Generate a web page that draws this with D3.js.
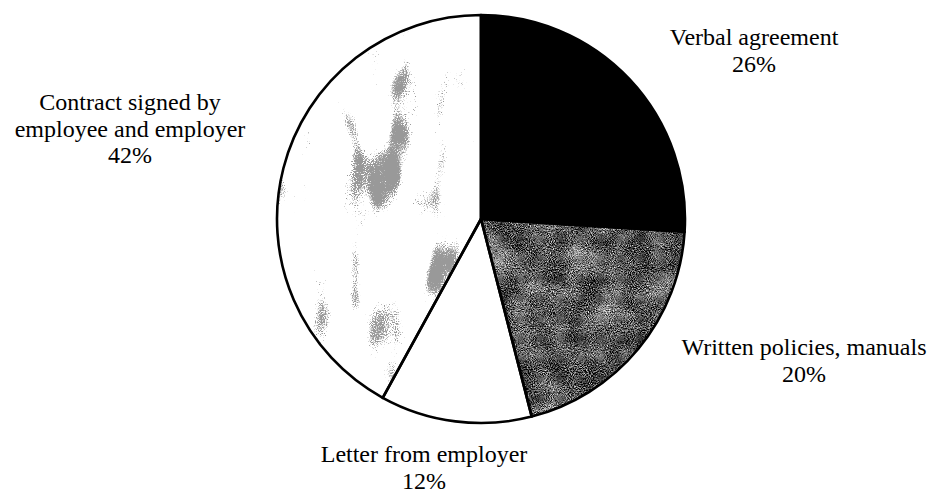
<!DOCTYPE html>
<html>
<head>
<meta charset="utf-8">
<script src="https://cdn.jsdelivr.net/npm/d3@7/dist/d3.min.js"></script>
<style>
  html, body { margin: 0; padding: 0; background: #fff; }
  svg { display: block; }
  text { font-family: "Liberation Serif", "Times New Roman", serif; fill: #000; }
  filter { color-interpolation-filters: sRGB; }
</style>
</head>
<body>
<svg id="chart" width="933" height="492"></svg>
<script>
// ---- data ----
const categories = ["Verbal agreement", "Written policies, manuals", "Letter from employer", "Contract signed by employee and employer"];
const values = [26, 20, 12, 42];
const labelLines = [
  ["Verbal agreement"],
  ["Written policies, manuals"],
  ["Letter from employer"],
  ["Contract signed by", "employee and employer"]
];
const percentLabels = ["26%", "20%", "12%", "42%"];

// ---- layout ----
const W = 933, H = 492;
const cx = 481, cy = 219, R = 204;
const labelOffsets = [[273, -174], [323, 136], [-57, 243], [-351, -109]];
const lineH = 26.5;

const svg = d3.select("#chart");
const defs = svg.append("defs");

// mid-grey speckled texture for "Written policies"
const fDark = defs.append("filter").attr("id", "texDark")
  .attr("color-interpolation-filters", "sRGB")
  .attr("x", 0).attr("y", 0).attr("width", 1).attr("height", 1);
fDark.append("feTurbulence").attr("type", "fractalNoise")
  .attr("baseFrequency", "0.95").attr("numOctaves", 2).attr("seed", 7).attr("result", "hi");
fDark.append("feTurbulence").attr("type", "fractalNoise")
  .attr("baseFrequency", "0.035").attr("numOctaves", 3).attr("seed", 3).attr("result", "lo");
fDark.append("feComposite").attr("in", "hi").attr("in2", "lo").attr("operator", "arithmetic")
  .attr("k1", 0).attr("k2", 0.8).attr("k3", 0.3).attr("k4", 0).attr("result", "mix");
fDark.append("feColorMatrix").attr("in", "mix").attr("type", "matrix")
  .attr("values", "2.2 0 0 0 -0.76  2.2 0 0 0 -0.76  2.2 0 0 0 -0.76  0 0 0 0 1").attr("result", "col");
fDark.append("feComposite").attr("in", "col").attr("in2", "SourceGraphic").attr("operator", "in");

// light blotchy texture for "Contract"
const fLight = defs.append("filter").attr("id", "texLight")
  .attr("color-interpolation-filters", "sRGB")
  .attr("x", 0).attr("y", 0).attr("width", 1).attr("height", 1);
fLight.append("feTurbulence").attr("type", "fractalNoise")
  .attr("baseFrequency", "0.03 0.013").attr("numOctaves", 2).attr("seed", 11).attr("result", "lo");
fLight.append("feTurbulence").attr("type", "fractalNoise")
  .attr("baseFrequency", "0.9").attr("numOctaves", 1).attr("seed", 5).attr("result", "hi");
fLight.append("feComposite").attr("in", "lo").attr("in2", "hi").attr("operator", "arithmetic")
  .attr("k1", 0).attr("k2", 1).attr("k3", 0.3).attr("k4", -0.15).attr("result", "mix");
fLight.append("feColorMatrix").attr("in", "mix").attr("type", "matrix")
  .attr("values", "0 0 0 0 0.6  0 0 0 0 0.6  0 0 0 0 0.6  18 0 0 0 -8.5").attr("result", "blob");
fLight.append("feComposite").attr("in", "blob").attr("in2", "SourceGraphic").attr("operator", "in");

const pie = d3.pie().sort(null).value(d => d).startAngle(0).endAngle(2 * Math.PI);
const arcs = pie(values);
const arc = d3.arc().innerRadius(0).outerRadius(R);

const g = svg.append("g").attr("transform", `translate(${cx},${cy})`);

// base fills
g.selectAll("path.base").data(arcs).join("path")
  .attr("class", "base")
  .attr("d", arc)
  .attr("fill", (d, i) => i === 0 ? "#000" : "#fff");

// textures
g.append("path").datum(arcs[1]).attr("d", arc).attr("fill", "#000").attr("filter", "url(#texDark)");
g.append("path").datum(arcs[3]).attr("d", arc).attr("fill", "#000").attr("filter", "url(#texLight)");

// outlines
g.selectAll("path.edge").data(arcs).join("path")
  .attr("class", "edge")
  .attr("d", arc)
  .attr("fill", "none")
  .attr("stroke", "#000")
  .attr("stroke-width", 2.6)
  .attr("stroke-linejoin", "round");

// labels
const labels = svg.append("g").selectAll("text").data(categories).join("text")
  .attr("text-anchor", "middle")
  .attr("font-size", 24)
  .attr("transform", (d, i) => `translate(${cx + labelOffsets[i][0]},${cy + labelOffsets[i][1]})`);
labels.each(function(d, i) {
  const t = d3.select(this);
  const lines = labelLines[i].concat([percentLabels[i]]);
  lines.forEach((ln, j) => {
    t.append("tspan").attr("x", 0).attr("y", j * lineH).text(ln);
  });
});
</script>
</body>
</html>
